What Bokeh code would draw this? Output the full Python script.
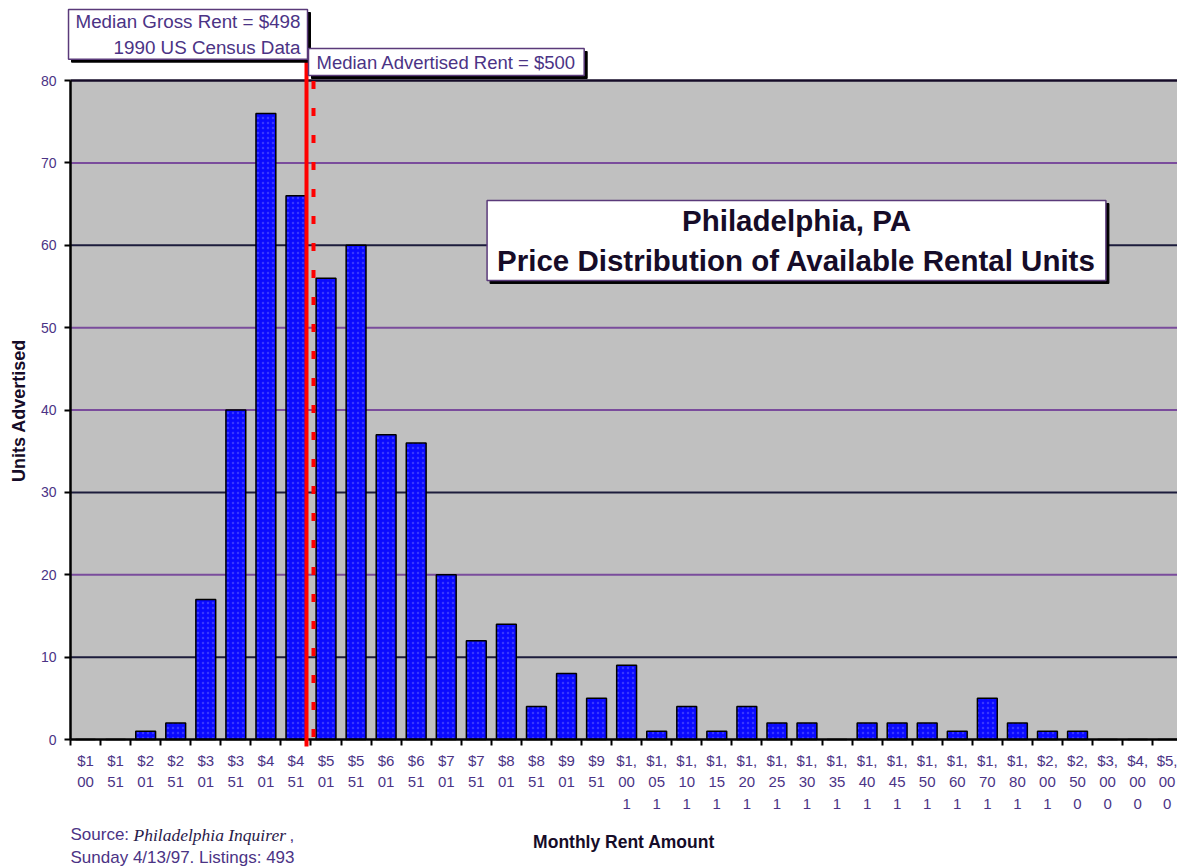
import math
from bokeh.plotting import figure
from bokeh.models import (FixedTicker, Label, Arrow, Range1d, BoxAnnotation)
from bokeh.embed import file_html
from bokeh.resources import INLINE

# ---- data ----
categories = ["$100", "$151", "$201", "$251", "$301", "$351", "$401", "$451",
              "$501", "$551", "$601", "$651", "$701", "$751", "$801", "$851",
              "$901", "$951", "$1,001", "$1,051", "$1,101", "$1,151", "$1,201",
              "$1,251", "$1,301", "$1,351", "$1,401", "$1,451", "$1,501",
              "$1,601", "$1,701", "$1,801", "$2,001", "$2,500", "$3,000",
              "$4,000", "$5,000"]
tick_labels = ["$1\n00", "$1\n51", "$2\n01", "$2\n51", "$3\n01", "$3\n51", "$4\n01",
               "$4\n51", "$5\n01", "$5\n51", "$6\n01", "$6\n51", "$7\n01", "$7\n51",
               "$8\n01", "$8\n51", "$9\n01", "$9\n51", "$1,\n00\n1", "$1,\n05\n1",
               "$1,\n10\n1", "$1,\n15\n1", "$1,\n20\n1", "$1,\n25\n1", "$1,\n30\n1",
               "$1,\n35\n1", "$1,\n40\n1", "$1,\n45\n1", "$1,\n50\n1", "$1,\n60\n1",
               "$1,\n70\n1", "$1,\n80\n1", "$2,\n00\n1", "$2,\n50\n0", "$3,\n00\n0",
               "$4,\n00\n0", "$5,\n00\n0"]
units_advertised = [0, 0, 1, 2, 17, 40, 76, 66, 56, 60, 37, 36, 20, 12, 14, 4, 8,
                    5, 9, 1, 4, 1, 4, 2, 2, 0, 2, 2, 2, 1, 5, 2, 1, 1, 0, 0, 0]
y_ticks = [0, 10, 20, 30, 40, 50, 60, 70, 80]
grid_purple = [20, 40, 50, 70]
grid_dark = [10, 30, 60]
median_gross_rent = 498
median_advertised_rent = 500
listings = 493

FONT = "Liberation Sans"
TXT = "#4b3385"
DARK = "#160c28"

# layout helpers (pixel -> data, for annotation placement only)
FRAME_L, PX_X, Y0_PX, PX_Y = 70, 30.06, 739, 8.2375
W, H = 1177, 867


def dx(px):
    return -0.5 + (px - FRAME_L) / PX_X


def dy(py):
    return (Y0_PX - py) / PX_Y


xs = list(range(len(categories)))
X_LEFT, X_RIGHT = -0.5, dx(W + 40)
Y_TOP = y_ticks[-1]

p = figure(width=W, height=H,
           x_range=Range1d(dx(0), dx(W)), y_range=Range1d(dy(H), dy(0)),
           output_backend="svg", toolbar_location=None,
           min_border_left=0, min_border_top=0, min_border_bottom=0,
           min_border_right=0,
           background_fill_color="white", border_fill_color="white")
p.outline_line_color = None
p.xgrid.visible = False
p.ygrid.visible = False

# plot area background
p.add_layout(BoxAnnotation(left=X_LEFT, right=X_RIGHT, bottom=0, top=Y_TOP,
                           fill_color="#c0c0c0", fill_alpha=1,
                           line_color=None, level="image"))

# grid lines and top border of the plot area
p.segment(x0=[X_LEFT] * len(grid_purple), x1=[X_RIGHT] * len(grid_purple),
          y0=grid_purple, y1=grid_purple, line_color="#7a4c9c", line_width=2)
p.segment(x0=[X_LEFT] * len(grid_dark), x1=[X_RIGHT] * len(grid_dark),
          y0=grid_dark, y1=grid_dark, line_color="#1c1c3c", line_width=2)
p.segment(x0=[X_LEFT], x1=[X_RIGHT], y0=[Y_TOP], y1=[Y_TOP],
          line_color=DARK, line_width=2.5)

# bars
p.vbar(x=xs, top=units_advertised, width=0.66, fill_color="#0a0aff",
       line_color="black", line_width=1.5,
       hatch_pattern="dot", hatch_color="#4a4aff", hatch_scale=5,
       hatch_weight=1, hatch_alpha=0.7)

# x axis
xa = p.xaxis[0]
xa.fixed_location = 0
xa.bounds = (X_LEFT, X_RIGHT)
xa.ticker = FixedTicker(ticks=xs, minor_ticks=[x - 0.5 for x in xs] + [xs[-1] + 0.5])
xa.major_label_overrides = {x: lbl for x, lbl in zip(xs, tick_labels)}
xa.major_tick_line_color = None
xa.major_tick_out = 0
xa.major_tick_in = 0
xa.minor_tick_out = 6
xa.minor_tick_in = 0
xa.minor_tick_line_color = "black"
xa.minor_tick_line_width = 2
xa.axis_line_color = "black"
xa.axis_line_width = 2.5
xa.major_label_text_font = FONT
xa.major_label_text_font_size = "15px"
xa.major_label_text_color = TXT
xa.major_label_text_line_height = 1.28
xa.major_label_standoff = 6
xa.axis_label = "Monthly Rent Amount"
xa.axis_label_text_font = FONT
xa.axis_label_text_font_style = "bold"
xa.axis_label_text_font_size = "17.5px"
xa.axis_label_text_color = DARK
xa.axis_label_standoff = 17

# y axis
ya = p.yaxis[0]
ya.fixed_location = X_LEFT
ya.bounds = (0, Y_TOP)
ya.ticker = FixedTicker(ticks=y_ticks)
ya.minor_tick_line_color = None
ya.major_tick_out = 6
ya.major_tick_in = 0
ya.major_tick_line_color = "black"
ya.major_tick_line_width = 2
ya.axis_line_color = "black"
ya.axis_line_width = 2.5
ya.major_label_text_font = FONT
ya.major_label_text_font_size = "14px"
ya.major_label_text_color = TXT
ya.major_label_standoff = 8

p.add_layout(Label(x=dx(18), y=dy(410), text="Units Advertised", angle=math.pi / 2,
                   text_font=FONT, text_font_style="bold", text_font_size="18px",
                   text_color=DARK, text_align="center", text_baseline="middle"))

# median lines (both medians fall in the $451-$500 bin)
x_gross = dx(306)
x_adv = dx(313)
p.add_layout(Arrow(end=None, x_start=x_gross, y_start=dy(746), x_end=x_gross,
                   y_end=dy(50), line_color="#ff0000", line_width=4))
p.add_layout(Arrow(end=None, x_start=x_adv, y_start=0.3, x_end=x_adv, y_end=Y_TOP,
                   line_color="#ff0000", line_width=4, line_dash="8 19"))


# annotation boxes (anchor = outer edge of the box)
def box(x, y, text, size, align="left", baseline="top", bold=False, pad=(5, 4),
        color=TXT, lh=1.2):
    common = dict(x=x, y=y, text=text, text_font=FONT, text_font_size=size,
                  text_align=align, text_baseline=baseline,
                  text_font_style="bold" if bold else "normal",
                  text_line_height=lh, padding=pad)
    p.add_layout(Label(text_color="black", background_fill_color="black",
                       border_line_color="black", x_offset=3, y_offset=-3, **common))
    p.add_layout(Label(text_color=color, background_fill_color="white",
                       border_line_color="#5a3a7a", border_line_width=1.5, **common))


box(dx(307), dy(9), "Median Gross Rent = $" + str(median_gross_rent)
    + "\n1990 US Census Data", "18.8px", align="right", pad=(7, 1), lh=1.27)
box(dx(308), dy(48), "Median Advertised Rent = $" + str(median_advertised_rent),
    "18.5px", align="left", pad=(8, 3), lh=1.1)
box(dx(796), dy(240), "Philadelphia, PA\nPrice Distribution of Available Rental Units",
    "29.5px", align="center", baseline="middle", bold=True, pad=(10, 3),
    color=DARK, lh=1.24)

# source note
src1, src2 = dy(834), dy(857)
p.add_layout(Label(x=dx(70), y=src1, text="Source:", text_font=FONT,
                   text_font_size="17px", text_color=TXT, text_baseline="middle"))
p.add_layout(Label(x=dx(133), y=src1, text="Philadelphia Inquirer",
                   text_font="Liberation Serif", text_font_style="italic",
                   text_font_size="17.5px", text_color="#2a1a4a", text_baseline="middle"))
p.add_layout(Label(x=dx(289), y=src1, text=",", text_font=FONT,
                   text_font_size="17px", text_color=TXT, text_baseline="middle"))
p.add_layout(Label(x=dx(70), y=src2,
                   text="Sunday 4/13/97.  Listings: " + str(listings),
                   text_font=FONT, text_font_size="17px", text_color=TXT,
                   text_baseline="middle"))

open("out.html", "w").write(file_html(p, INLINE))
